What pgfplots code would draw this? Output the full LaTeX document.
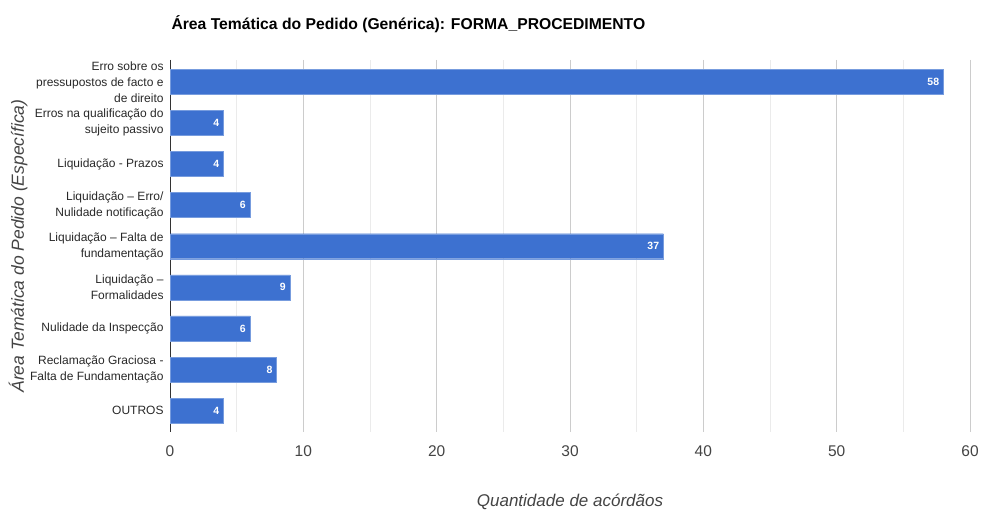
\documentclass[border=0pt]{standalone}
\usepackage{fontspec}
\setmainfont{Liberation Sans}
\usepackage{pgfplots}
\pgfplotsset{compat=1.18}
\definecolor{barblue}{RGB}{61,113,208}
\definecolor{majgrid}{RGB}{204,204,204}
\definecolor{mingrid}{RGB}{235,235,235}
\definecolor{ticktxt}{RGB}{68,68,68}
\definecolor{cattxt}{RGB}{40,40,40}
\begin{document}
\begin{tikzpicture}[x=1pt,y=1pt]
\useasboundingbox (0,0) rectangle (981,509);
\begin{axis}[
  at={(170pt,77pt)}, anchor=south west,
  scale only axis, width=800pt, height=372pt,
  xbar, bar width=25pt,
  xmin=0, xmax=60,
  ymin=-0.53, ymax=8.52, y dir=reverse,
  xtick={0,10,...,60},
  minor x tick num=1,
  xmajorgrids, xminorgrids,
  major grid style={draw=majgrid, line width=0.8pt},
  minor grid style={draw=mingrid, line width=0.8pt},
  tick style={draw=none},
  ytick={0,...,8},
  yticklabels={
    {Erro sobre os\\pressupostos de facto e\\de direito},
    {Erros na qualificação do\\sujeito passivo},
    {Liquidação - Prazos},
    {Liquidação – Erro/\\Nulidade notificação},
    {Liquidação – Falta de\\fundamentação},
    {Liquidação –\\Formalidades},
    {Nulidade da Inspecção},
    {Reclamação Graciosa -\\Falta de Fundamentação},
    {OUTROS}},
  yticklabel style={align=right, font=\fontsize{12}{16}\selectfont, text=cattxt, inner sep=2pt},
  xticklabel style={font=\fontsize{15.5}{18}\selectfont, text=ticktxt, yshift=-10pt},
  /pgf/number format/assume math mode=true,
  axis x line*=bottom, axis y line*=left,
  x axis line style={draw=none},
  y axis line style={-, draw=black!80, line width=0.9pt},
  title={Área Temática do Pedido (Genérica): FORMA\_PROCEDIMENTO},
  title style={at={(axis description cs:0,1)}, anchor=west, yshift=30pt, xshift=-2pt,
    font=\fontsize{15.7}{18}\selectfont\bfseries, text=black},
  xlabel={Quantidade de acórdãos},
  xlabel style={at={(axis description cs:0.5,0)}, anchor=center, yshift=-70pt,
    font=\fontsize{17}{20}\selectfont\itshape, text=ticktxt},
  ylabel={Área Temática do Pedido (Específica)},
  ylabel style={at={(axis description cs:-0.19,0.5)}, anchor=center, rotate=0,
    font=\fontsize{17.5}{20}\selectfont\itshape, text=ticktxt},
  nodes near coords,
  every node near coord/.append style={anchor=east, text=white,
    font=\fontsize{10.5}{12}\selectfont\bfseries, inner sep=4pt},
]
\addplot[fill=barblue, draw=barblue!70!white] coordinates {
  (58,0) (4,1) (4,2) (6,3) (37,4) (9,5) (6,6) (8,7) (4,8)
};
\end{axis}
\end{tikzpicture}
\end{document}
